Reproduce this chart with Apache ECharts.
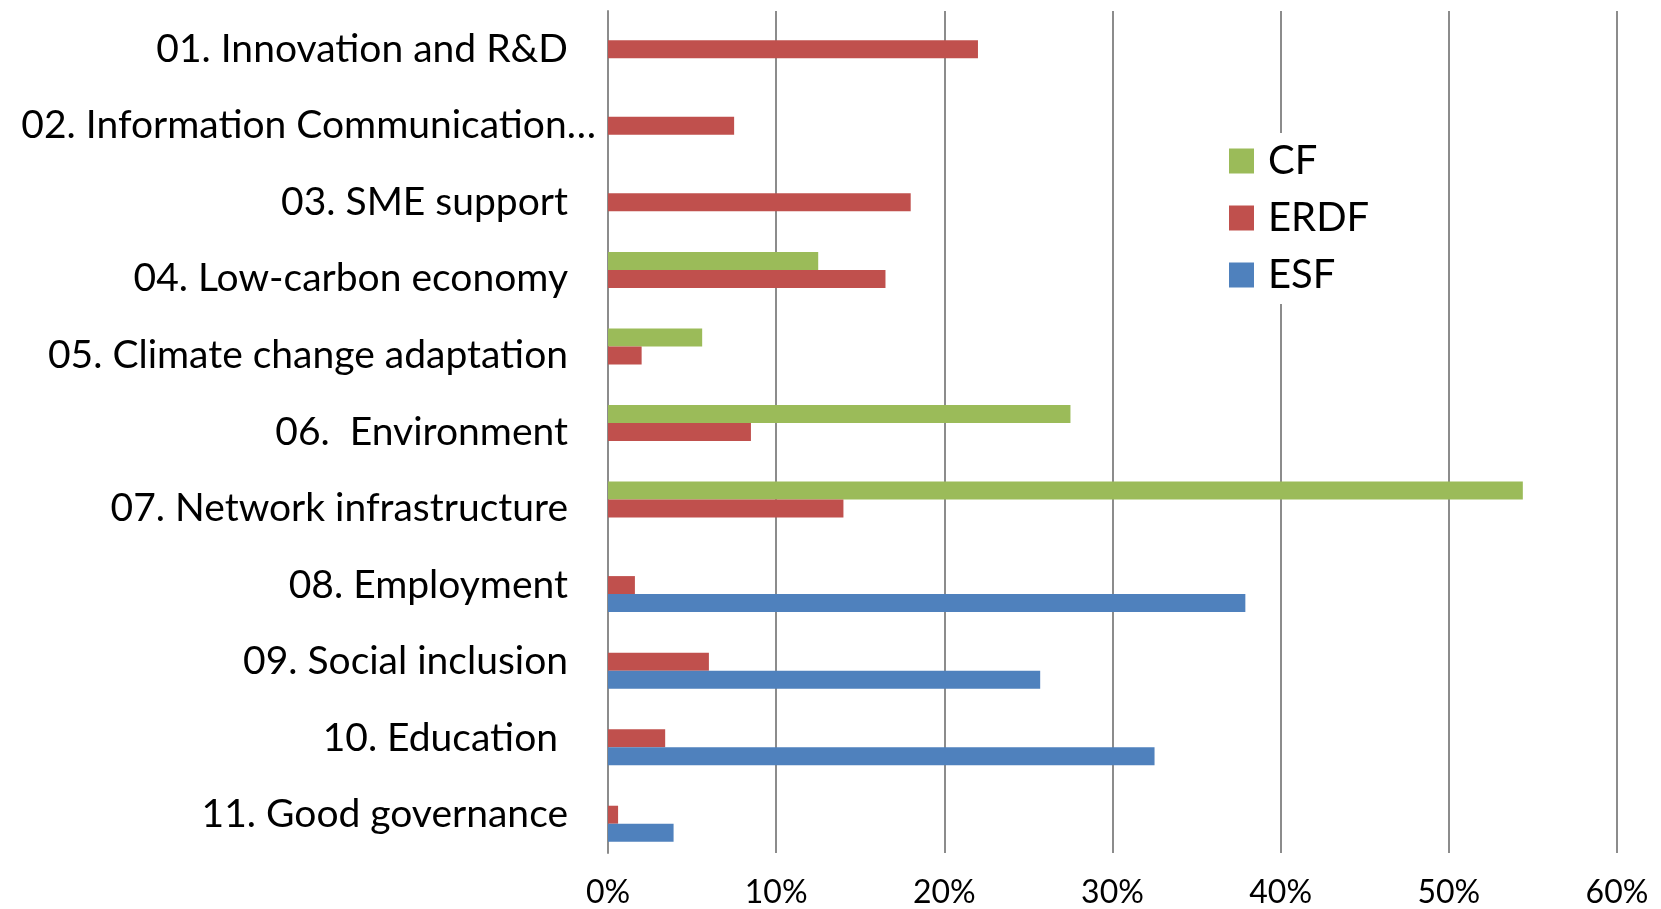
<!DOCTYPE html>
<html>
<head>
<meta charset="utf-8">
<script src="https://cdn.jsdelivr.net/npm/echarts@6/dist/echarts.min.js"></script>
<style>
  html, body { margin: 0; padding: 0; background: #fff; }
  #chart { width: 1661px; height: 909px; }
</style>
</head>
<body>
<div id="chart"></div>
<script>
// thematic objectives, top to bottom
const categories = [
  '01. Innovation and R&D',
  '02. Information Communication…',
  '03. SME support',
  '04. Low-carbon economy',
  '05. Climate change adaptation',
  '06.  Environment',
  '07. Network infrastructure',
  '08. Employment',
  '09. Social inclusion',
  '10. Education ',
  '11. Good governance'
];

// share of each fund, in %
const cf   = [0, 0, 0, 12.5, 5.6, 27.5, 54.4, 0, 0, 0, 0];
const erdf = [22.0, 7.5, 18.0, 16.5, 2.0, 8.5, 14.0, 1.6, 6.0, 3.4, 0.6];
const esf  = [0, 0, 0, 0, 0, 0, 0, 37.9, 25.7, 32.5, 3.9];

const xTicks = [0, 10, 20, 30, 40, 50, 60];

const font = 'Lato, "Open Sans", sans-serif';
const gridGray = '#8c8c8c';

var myChart = echarts.init(document.getElementById('chart'));

var option = {
  animation: false,
  grid: {
    left: 608,
    right: 44,
    top: 11,
    bottom: 56
  },
  legend: {
    orient: 'vertical',
    left: 1213,
    top: 133,
    padding: [8, 16, 9, 16],
    backgroundColor: '#fff',
    icon: 'rect',
    itemWidth: 25,
    itemHeight: 25,
    itemGap: 17,
    data: ['CF', 'ERDF', 'ESF'],
    textStyle: {
      fontFamily: font,
      fontSize: 40,
      color: '#000',
      padding: [0, 0, 0, 9]
    }
  },
  xAxis: {
    type: 'value',
    min: xTicks[0],
    max: xTicks[xTicks.length - 1],
    interval: 10,
    axisLine: { show: false },
    axisTick: { show: false },
    splitLine: { lineStyle: { color: gridGray, width: 2 } },
    axisLabel: {
      formatter: '{value}%',
      fontFamily: font,
      fontSize: 32,
      color: '#000',
      margin: 24
    }
  },
  yAxis: {
    type: 'category',
    inverse: true,
    data: categories,
    axisLine: { show: true, lineStyle: { color: gridGray, width: 2 } },
    axisTick: { show: false },
    axisLabel: {
      margin: 12,
      color: '#000',
      fontFamily: font,
      fontSize: 39,
      // the long truncated label sticks out closer to the axis, like in Excel
      formatter: function (v) {
        return v.indexOf('…') > -1 ? '{b|' + v + '}' : '{a|' + v + '}';
      },
      rich: {
        a: { fontFamily: font, fontSize: 39, color: '#000', padding: [0, 28, 0, 0] },
        b: { fontFamily: font, fontSize: 39, color: '#000' }
      }
    }
  },
  series: [
    { name: 'CF', type: 'bar', data: cf, barWidth: 18, barGap: '0%', itemStyle: { color: '#9BBB59' } },
    { name: 'ERDF', type: 'bar', data: erdf, barWidth: 18, barGap: '0%', itemStyle: { color: '#C0504D' } },
    { name: 'ESF', type: 'bar', data: esf, barWidth: 18, barGap: '0%', itemStyle: { color: '#4F81BD' } }
  ]
};
myChart.setOption(option);
</script>
</body>
</html>
